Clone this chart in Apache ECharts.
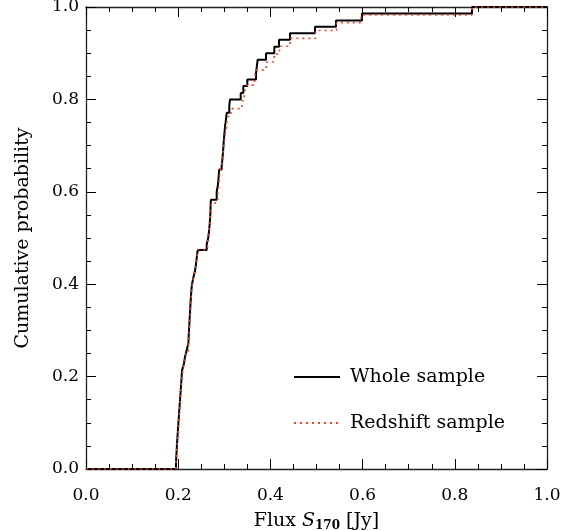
<!DOCTYPE html>
<html>
<head>
<meta charset="utf-8">
<script src="https://cdn.jsdelivr.net/npm/echarts@6/dist/echarts.min.js"></script>
<style>
html, body { margin: 0; padding: 0; background: #fff; }
#chart { width: 579px; height: 531px; }
</style>
</head>
<body>
<div id="chart"></div>
<script>
// whole sample: flux at each step, cumulative probability after the step
var wholeFlux = [0, 0.1952, 0.1960, 0.1968, 0.1976, 0.1985, 0.1995, 0.2005, 0.2015, 0.2025, 0.2035,
	0.2045, 0.2055, 0.2065, 0.2075, 0.2085, 0.2126, 0.2148, 0.2184, 0.2219, 0.2227,
	0.2234, 0.2242, 0.2250, 0.2258, 0.2266, 0.2275, 0.2285, 0.2299, 0.2328, 0.2364,
	0.2385, 0.2401, 0.2423, 0.2618, 0.2650, 0.2668, 0.2682, 0.2692, 0.2700, 0.2703,
	0.2710, 0.2835, 0.2860, 0.2875, 0.2889, 0.2943, 0.2960, 0.2972, 0.2982, 0.2992,
	0.3005, 0.3018, 0.3037, 0.3052, 0.3108, 0.3124, 0.3356, 0.3412, 0.3499, 0.3688,
	0.3705, 0.3724, 0.3905, 0.4085, 0.4187, 0.4425, 0.4967, 0.5423, 0.5987, 0.8373, 1.0];
var wholeProb = [0, 0.014, 0.029, 0.043, 0.057, 0.071, 0.086, 0.100, 0.114, 0.129, 0.143,
	0.157, 0.171, 0.186, 0.200, 0.214, 0.229, 0.243, 0.257, 0.271, 0.286,
	0.300, 0.314, 0.329, 0.343, 0.357, 0.371, 0.386, 0.400, 0.414, 0.429,
	0.443, 0.457, 0.474, 0.486, 0.500, 0.514, 0.529, 0.543, 0.557, 0.571,
	0.583, 0.600, 0.614, 0.629, 0.648, 0.657, 0.671, 0.686, 0.700, 0.714,
	0.729, 0.743, 0.757, 0.771, 0.786, 0.800, 0.814, 0.829, 0.843, 0.857,
	0.871, 0.886, 0.900, 0.914, 0.929, 0.943, 0.957, 0.971, 0.986, 1.000, 1.000];

// redshift sample
var redFlux = [0, 0.1950, 0.1960, 0.1975, 0.1990, 0.2000, 0.2010, 0.2025, 0.2040, 0.2050, 0.2060,
	0.2070, 0.2085, 0.2110, 0.2145, 0.2175, 0.2220, 0.2230, 0.2240, 0.2250, 0.2260,
	0.2270, 0.2280, 0.2290, 0.2315, 0.2350, 0.2385, 0.2405, 0.2425, 0.2635, 0.2660,
	0.2675, 0.2690, 0.2700, 0.2720, 0.2855, 0.2875, 0.2890, 0.2905, 0.2945, 0.2965,
	0.2985, 0.3000, 0.3025, 0.3050, 0.3080, 0.3145, 0.3380, 0.3430, 0.3470, 0.3655,
	0.3690, 0.3905, 0.4080, 0.4197, 0.4425, 0.4978, 0.5434, 0.5965, 0.8373, 1.0];
var redProb = [0, 0.017, 0.034, 0.051, 0.068, 0.085, 0.102, 0.119, 0.136, 0.153, 0.169,
	0.186, 0.203, 0.220, 0.237, 0.254, 0.271, 0.288, 0.305, 0.322, 0.339,
	0.356, 0.373, 0.390, 0.407, 0.424, 0.441, 0.458, 0.475, 0.492, 0.508,
	0.525, 0.542, 0.559, 0.576, 0.593, 0.610, 0.627, 0.644, 0.661, 0.678,
	0.695, 0.712, 0.729, 0.746, 0.763, 0.780, 0.797, 0.814, 0.831, 0.847,
	0.864, 0.881, 0.898, 0.915, 0.932, 0.949, 0.966, 0.983, 1.000, 1.000];

var xTicks = ['0.0', '0.2', '0.4', '0.6', '0.8', '1.0'];
var yTicks = ['0.0', '0.2', '0.4', '0.6', '0.8', '1.0'];
var seriesNames = ['Whole sample', 'Redshift sample'];

function pairs(xs, ys) {
	var out = [];
	for (var i = 0; i < xs.length; i++) out.push([xs[i], ys[i]]);
	return out;
}

var font = 'DejaVu Serif, Liberation Serif, serif';

function makeAxis(pos, show, labels, extra) {
	var ax = {
		type: 'value',
		position: pos,
		min: 0,
		max: 1,
		interval: 0.2,
		axisLine: { show: true, onZero: false, lineStyle: { color: '#222', width: 1.3 } },
		axisTick: { show: true, inside: true, length: 10, lineStyle: { color: '#000', width: 1 } },
		minorTick: { show: true, splitNumber: 4, length: 5, lineStyle: { color: '#000', width: 1 } },
		splitLine: { show: false },
		axisLabel: {
			show: show,
			color: '#000',
			fontFamily: font,
			fontSize: 17,
			formatter: function(v) {
				return labels[Math.round(v / 0.2)];
			}
		}
	};
	for (var k in extra) ax[k] = extra[k];
	return ax;
}

var option = {
	backgroundColor: '#fff',
	animation: false,
	grid: { left: 86, top: 7, width: 461, height: 462, containLabel: false, outerBoundsMode: 'none' },
	legend: {
		orient: 'vertical',
		left: 288,
		top: 362,
		itemWidth: 46,
		itemHeight: 20,
		itemGap: 26,
		itemStyle: { opacity: 0 },
		textStyle: { color: '#000', fontFamily: font, fontSize: 19, lineHeight: 20, padding: [0, 0, 0, 5] },
		data: seriesNames
	},
	xAxis: [
		makeAxis('bottom', true, xTicks, {
			name: '{a|Flux }{i|S}{s|170}{a| [Jy]}',
			nameLocation: 'middle',
			nameGap: 41,
			nameTextStyle: {
				rich: {
					a: { fontFamily: font, fontSize: 19, color: '#000' },
					i: { fontFamily: font, fontSize: 19, fontStyle: 'italic', color: '#000' },
					s: { fontFamily: font, fontSize: 12, fontWeight: 'bold', color: '#000', verticalAlign: 'bottom', padding: [10, 0, 0, 0] }
				}
			},
			axisLabel: {
				show: true, color: '#000', fontFamily: font, fontSize: 17, margin: 18,
				formatter: function(v) { return xTicks[Math.round(v / 0.2)]; }
			}
		}),
		makeAxis('top', false, xTicks, {})
	],
	yAxis: [
		makeAxis('left', true, yTicks, {
			name: 'Cumulative probability',
			nameLocation: 'middle',
			nameGap: 53,
			nameTextStyle: { fontFamily: font, fontSize: 19, color: '#000' },
			axisLabel: {
				show: true, color: '#000', fontFamily: font, fontSize: 17, margin: 7,
				formatter: function(v) { return yTicks[Math.round(v / 0.2)]; }
			}
		}),
		makeAxis('right', false, yTicks, {})
	],
	series: [
		{
			name: seriesNames[0],
			type: 'line',
			step: 'end',
			symbol: 'none',
			data: pairs(wholeFlux, wholeProb),
			lineStyle: { color: '#000', width: 2 },
			itemStyle: { color: '#000' },
			z: 3
		},
		{
			name: seriesNames[1],
			type: 'line',
			step: 'end',
			symbol: 'none',
			data: pairs(redFlux, redProb),
			lineStyle: { color: '#ff4020', width: 1.6, type: [2, 4] },
			itemStyle: { color: '#ff4020' },
			z: 4
		}
	]
};

var chart = echarts.init(document.getElementById('chart'), null, { renderer: 'canvas' });
chart.setOption(option);
</script>
</body>
</html>
